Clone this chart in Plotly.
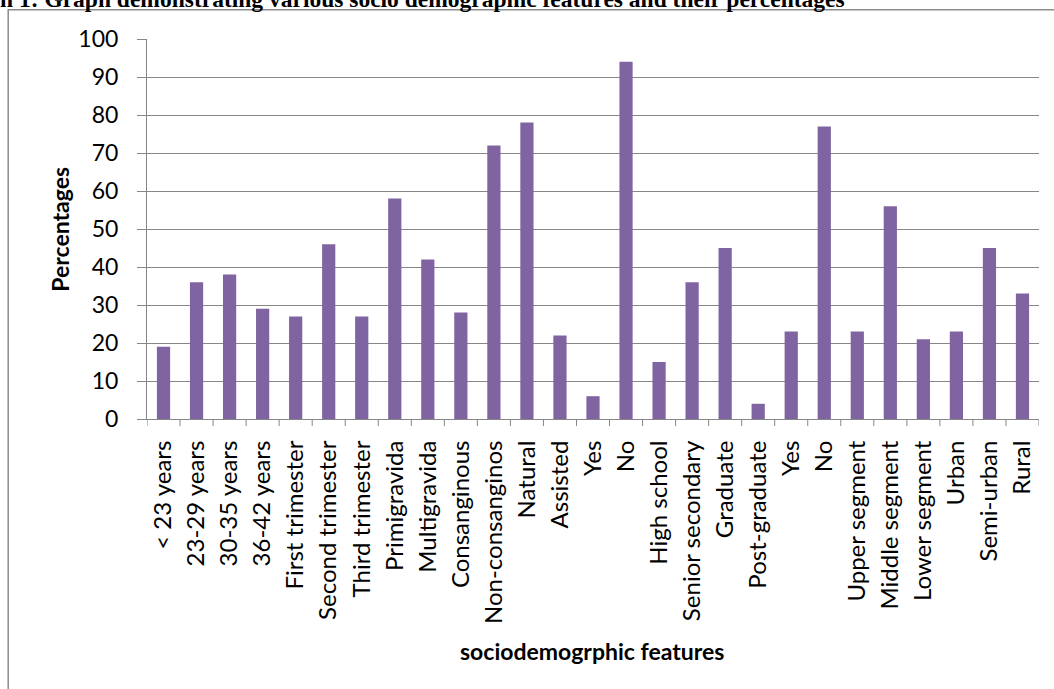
import plotly.graph_objects as go

# Socio-demographic categories and their percentages
categories = [
    "< 23 years", "23-29 years", "30-35 years", "36-42 years",
    "First trimester", "Second trimester", "Third trimester",
    "Primigravida", "Multigravida",
    "Consanginous", "Non-consanginos",
    "Natural", "Assisted",
    "Yes", "No",
    "High school", "Senior secondary", "Graduate", "Post-graduate",
    "Yes", "No",
    "Upper segment", "Middle segment", "Lower segment",
    "Urban", "Semi-urban", "Rural",
]
percentages = [
    19, 36, 38, 29,
    27, 46, 27,
    58, 42,
    28, 72,
    78, 22,
    6, 94,
    15, 36, 45, 4,
    23, 77,
    23, 56, 21,
    23, 45, 33,
]
y_ticks = [0, 10, 20, 30, 40, 50, 60, 70, 80, 90, 100]

positions = list(range(len(categories)))  # repeated labels need distinct slots

W, H = 1054, 689
L, R, T, B = 147.3, 1039.3, 39.3, 419.3
pw, ph = R - L, B - T


def px_x(px):
    return (px - L) / pw


def px_y(py):
    return (B - py) / ph


GRID = "#878787"
FONT = "Lato"

fig = go.Figure(
    go.Bar(
        x=positions,
        y=percentages,
        marker=dict(color="#8064A2", line=dict(width=0)),
        width=0.4,
        hoverinfo="skip",
    )
)

fig.update_layout(
    width=W,
    height=H,
    margin=dict(l=L, r=W - R, t=T, b=H - B, pad=0),
    paper_bgcolor="white",
    plot_bgcolor="white",
    showlegend=False,
    font=dict(family=FONT, color="black"),
    xaxis=dict(
        range=[-0.5, len(categories) - 0.5],
        tickmode="array",
        tickvals=positions,
        ticktext=categories,
        tickangle=-90,
        tickfont=dict(family=FONT, size=24, color="black"),
        showgrid=False,
        showline=True,
        linecolor=GRID,
        linewidth=1,
        ticks="",
        zeroline=False,
        fixedrange=True,
        ticklabelstandoff=11,
    ),
    yaxis=dict(
        range=[0, 100],
        tickmode="array",
        tickvals=y_ticks,
        tickfont=dict(family=FONT, size=23, color="black"),
        showgrid=True,
        gridcolor=GRID,
        gridwidth=1,
        showline=True,
        linecolor=GRID,
        linewidth=1,
        ticks="outside",
        ticklen=9,
        tickcolor=GRID,
        zeroline=False,
        fixedrange=True,
        ticklabelstandoff=14,
    ),
)

# category boundary tick marks below the x axis
bounds = [i - 0.5 for i in range(len(categories) + 1)]
for b in bounds:
    fig.add_shape(
        type="line", xref="x", yref="paper",
        x0=b, x1=b, y0=0, y1=px_y(B + 7),
        line=dict(color=GRID, width=1),
    )

# outer chart frame
fig.add_shape(
    type="rect", xref="paper", yref="paper",
    x0=px_x(8.5), x1=px_x(1100), y0=px_y(10), y1=px_y(760),
    line=dict(color="#8c8c8c", width=1.5),
    fillcolor="rgba(0,0,0,0)",
    layer="below",
)

# axis titles
fig.add_annotation(
    text="<b>Percentages</b>", xref="paper", yref="paper",
    x=px_x(60), y=0.5, textangle=-90, showarrow=False,
    font=dict(family=FONT, size=23, color="black"),
    xanchor="center", yanchor="middle",
)
fig.add_annotation(
    text="<b>sociodemogrphic features</b>", xref="paper", yref="paper",
    x=px_x(592), y=px_y(651), showarrow=False,
    font=dict(family=FONT, size=23, color="black"),
    xanchor="center", yanchor="middle",
)

# caption running above the frame
fig.add_annotation(
    text="<b>h 1: Graph demonstrating various socio demographic features and their percentages</b>",
    xref="paper", yref="paper",
    x=px_x(-2), y=px_y(-1), showarrow=False,
    font=dict(family="Liberation Serif", size=23.5, color="black"),
    xanchor="left", yanchor="middle",
)

fig.write_html("out.html")
